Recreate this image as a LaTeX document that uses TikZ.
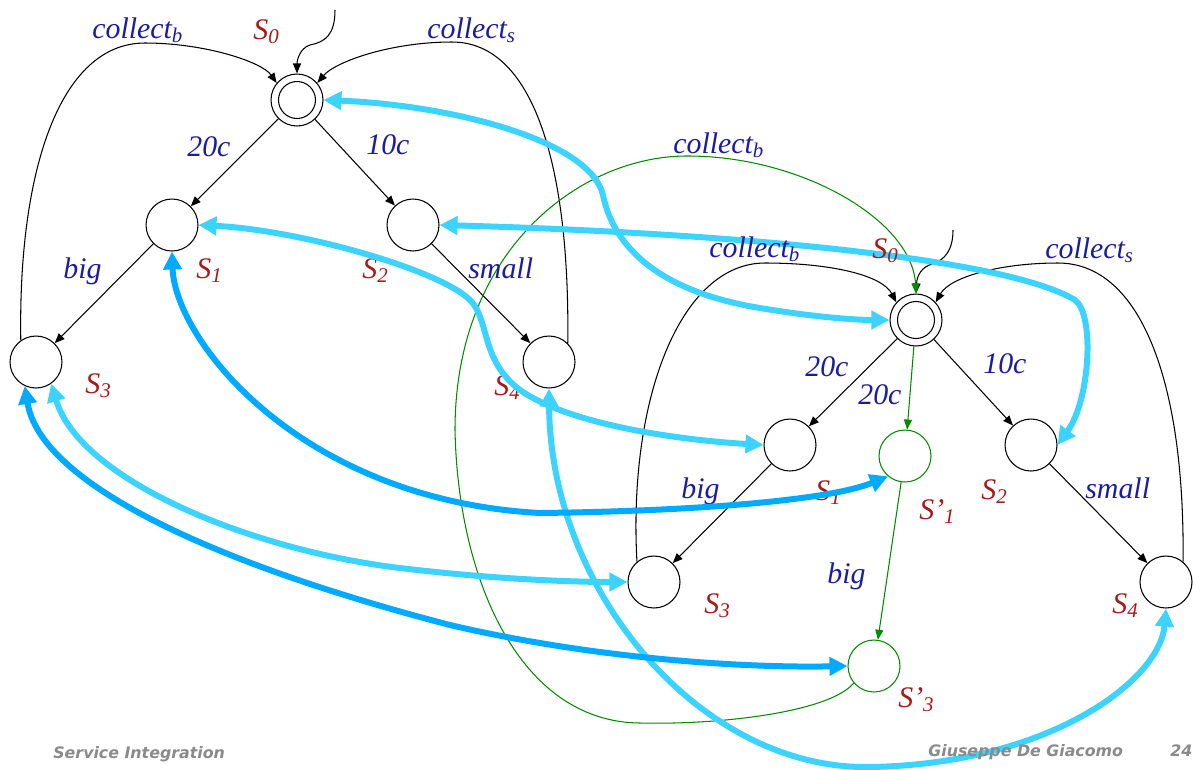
\documentclass[tikz,border=0pt]{standalone}
\usepackage{fontspec}
\setmainfont{Liberation Serif}
\newfontfamily\footfont{DejaVu Sans}
\usetikzlibrary{arrows.meta}
\definecolor{actblue}{HTML}{1C1C9E}
\definecolor{stred}{HTML}{A81818}
\definecolor{grn}{HTML}{008C00}
\definecolor{simlight}{HTML}{3CD4FF}
\definecolor{simdeep}{HTML}{00AAFF}
\definecolor{footgray}{HTML}{8A8A8A}
\tikzset{
  stnode/.style={circle, draw=black, line width=0.6pt, minimum size=1.04cm, inner sep=0pt},
  gnode/.style={stnode, draw=grn},
  ring/.style={circle, draw=black, line width=0.6pt, minimum size=0.74cm, inner sep=0pt},
  edge/.style={-{Triangle[length=0.2cm,width=0.16cm]}, line width=0.6pt, draw=black},
  gedge/.style={edge, draw=grn},
  simarrow/.style={{Triangle[length=0.36cm,width=0.36cm]}-{Triangle[length=0.36cm,width=0.36cm]},
                   line width=0.12cm},
  act/.style={anchor=base west, inner sep=0pt, text=actblue,
              font=\fontsize{17}{20}\selectfont\itshape},
  stl/.style={act, text=stred},
  foot/.style={anchor=base west, inner sep=0pt, text=footgray,
               font=\footfont\fontsize{9}{11}\selectfont\bfseries\itshape}
}
\begin{document}
\begin{tikzpicture}[x=0.02cm,y=-0.02cm]
  \useasboundingbox (0,0) rectangle (1193,769);
  % left automaton
  \node[stnode] (l0) at (297,100) {};
  \node[ring] (l0i) at (l0) {};
  \node[stnode] (l1) at (172,225) {};
  \node[stnode] (l2) at (413,225) {};
  \node[stnode] (l3) at (36,362) {};
  \node[stnode] (l4) at (549,362) {};
  \coordinate (l0s) at (335,10);
  % right automaton
  \node[stnode] (r0) at (916,320) {};
  \node[ring] (r0i) at (r0) {};
  \node[stnode] (r1) at (790,445) {};
  \node[stnode] (r2) at (1031,445) {};
  \node[stnode] (r3) at (654,582) {};
  \node[stnode] (r4) at (1166,582) {};
  \node[gnode] (r1p) at (905,456) {};
  \node[gnode] (r3p) at (874,666) {};
  \coordinate (r0s) at (953,230);

  % left transitions
  \draw[edge] (l0s) .. controls (335,35) and (325,42) .. (310,45) .. controls (300,48) and (297,60) .. (l0.north);
  \draw[edge] (l0) -- (l1);
  \draw[edge] (l0) -- (l2);
  \draw[edge] (l1) -- (l3);
  \draw[edge] (l2) -- (l4);
  \draw[edge] (l3.125) .. controls (18,170) and (60,43) .. (145,43) .. controls (205,43) and (262,62) .. (l0.140);
  \draw[edge] (l4.45) .. controls (570,170) and (535,42) .. (452,42) .. controls (390,42) and (335,62) .. (l0.40);

  % right transitions
  \draw[edge] (r0s) .. controls (953,250) and (945,260) .. (932,264) .. controls (922,267) and (917,275) .. (r0.north);
  \draw[edge] (r0) -- (r1);
  \draw[edge] (r0) -- (r2);
  \draw[edge] (r1) -- (r3);
  \draw[edge] (r2) -- (r4);
  \draw[edge] (r3.130) .. controls (628,400) and (680,263) .. (765,263) .. controls (830,263) and (882,275) .. (r0.138);
  \draw[edge] (r4.50) .. controls (1185,380) and (1140,263) .. (1058,263) .. controls (1000,263) and (950,277) .. (r0.42);
  \draw[gedge] (r0) -- (r1p);
  \draw[gedge] (r1p) -- (r3p);
  \draw[gedge] (r3p.220) .. controls (830,712) and (720,725) .. (640,723) .. controls (520,722) and (458,580) .. (455,430)
     .. controls (455,250) and (580,157) .. (685,156) .. controls (800,155) and (912,220) .. (r0.north);

  % this one runs under the labels
  \draw[simarrow, draw=simlight] (l2.east) .. controls (700,232) and (1000,255) .. (1075,300)
     .. controls (1095,315) and (1090,400) .. (r2.east);

  % labels
  \node[act] (tl0b) at (92,38) {collect\textsubscript{b}};
  \node[stl] (tl0) at (253,39) {S\textsubscript{0}};
  \node[act] (tl0c) at (427,38) {collect\textsubscript{s}};
  \node[act] (tl20) at (187,156) {20c};
  \node[act] (tl10) at (366,154) {10c};
  \node[act] (tlbig) at (63,278) {big};
  \node[stl] (tl1) at (196,278) {S\textsubscript{1}};
  \node[stl] (tl2) at (362,278) {S\textsubscript{2}};
  \node[act] (tlsm) at (468,278) {small};
  \node[stl] (tl3) at (85,393) {S\textsubscript{3}};
  \node[stl] (tl4) at (494,395) {S\textsubscript{4}};

  \node[act] (tgb) at (673,153) {collect\textsubscript{b}};
  \node[act] (tr0b) at (709,257) {collect\textsubscript{b}};
  \node[stl] (tr0) at (872,258) {S\textsubscript{0}};
  \node[act] (tr0c) at (1045,258) {collect\textsubscript{s}};
  \node[act] (tr20) at (805,376) {20c};
  \node[act] (tg20) at (858,404) {20c};
  \node[act] (tr10) at (983,373) {10c};
  \node[act] (trbig) at (681,498) {big};
  \node[stl] (tr1) at (815,500) {S\textsubscript{1}};
  \node[stl] (tr1p) at (919,519) {S’\textsubscript{1}};
  \node[stl] (tr2) at (981,499) {S\textsubscript{2}};
  \node[act] (trsm) at (1085,498) {small};
  \node[act] (tgbig) at (827,583) {big};
  \node[stl] (tr3) at (704,613) {S\textsubscript{3}};
  \node[stl] (tr4) at (1112,613) {S\textsubscript{4}};
  \node[stl] (tr3p) at (898,707) {S’\textsubscript{3}};

  % simulation arrows
  \draw[simarrow, draw=simlight] (l0.east) .. controls (450,105) and (590,140) .. (603,195)
     .. controls (612,240) and (650,290) .. (760,308) .. controls (820,318) and (860,320) .. (r0.west);
  \draw[simarrow, draw=simlight] (l1.east) .. controls (300,230) and (440,270) .. (470,300)
     .. controls (490,320) and (480,360) .. (520,390) .. controls (570,425) and (680,440) .. (r1.west);
  \draw[simarrow, draw=simlight] (l3.-55) .. controls (80,480) and (250,550) .. (400,568)
     .. controls (500,580) and (580,582) .. (r3.west);
  \draw[simarrow, draw=simlight] (l4.south) .. controls (550,590) and (700,770) .. (870,767)
     .. controls (1050,764) and (1160,680) .. (r4.south);
  \draw[simarrow, draw=simdeep] (l1.south) .. controls (175,340) and (300,500) .. (540,513)
     .. controls (700,511) and (830,500) .. (r1p.-130);
  \draw[simarrow, draw=simdeep] (l3.-115) .. controls (40,480) and (200,560) .. (450,625)
     .. controls (600,660) and (750,668) .. (r3p.west);

  % footer
  \node[foot] (fl) at (53,758) {Service Integration};
  \node[foot] (fa) at (928,756) {Giuseppe De Giacomo};
  \node[foot] (fp) at (1170,756) {24};
\end{tikzpicture}
\end{document}
